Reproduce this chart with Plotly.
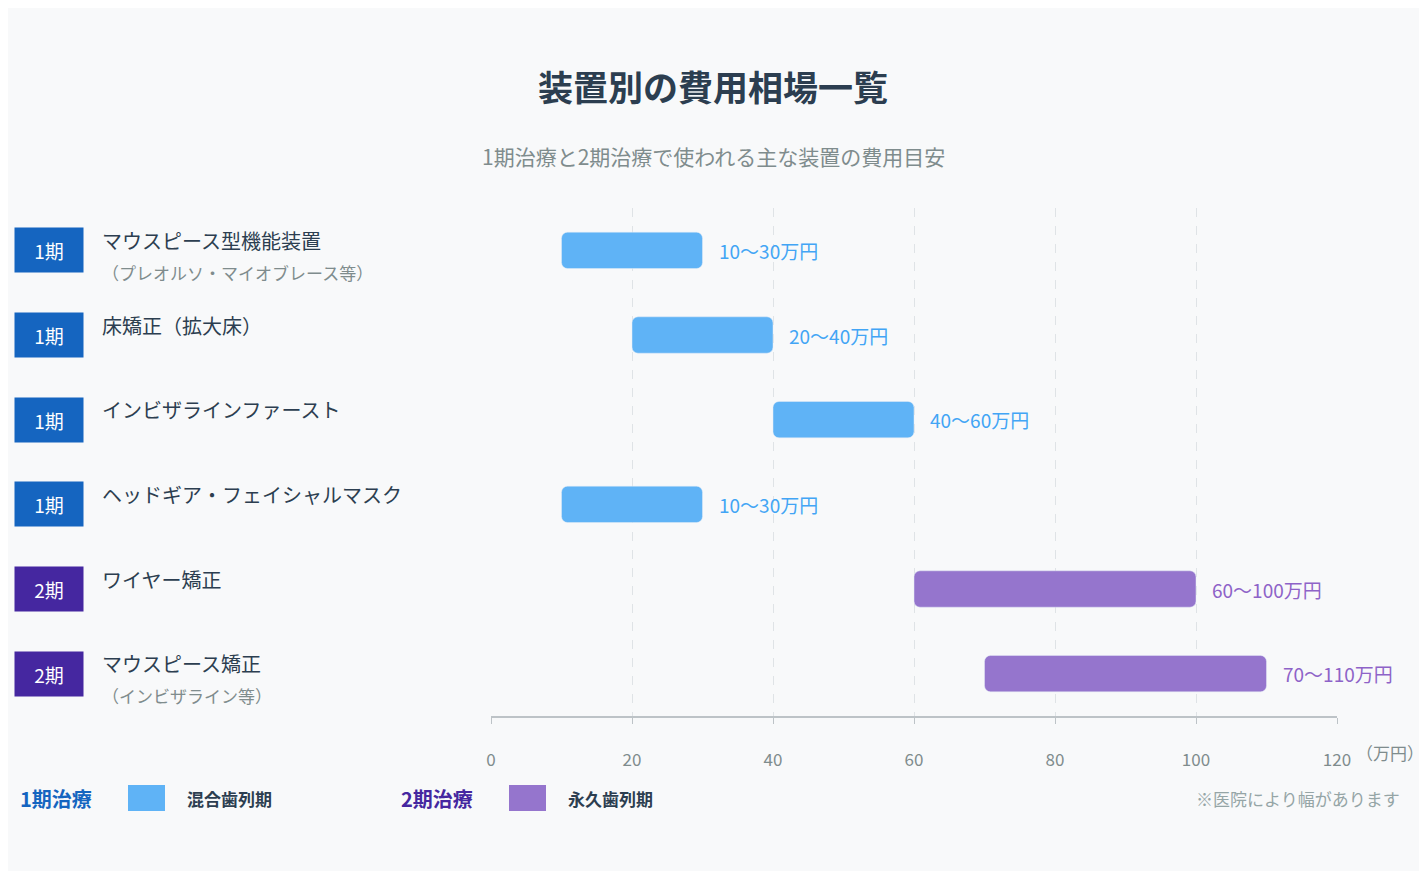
import plotly.graph_objects as go

# データ
names = ["マウスピース型機能装置", "床矯正（拡大床）", "インビザラインファースト",
         "ヘッドギア・フェイシャルマスク", "ワイヤー矯正", "マウスピース矯正"]
subs = ["（プレオルソ・マイオブレース等）", "", "", "", "", "（インビザライン等）"]
phases = ["1期", "1期", "1期", "1期", "2期", "2期"]
low = [10, 20, 40, 10, 60, 70]
high = [30, 40, 60, 30, 100, 110]

FONT = "Noto Sans CJK JP"
bar_col = {"1期": "#5fb3f6", "2期": "#9575cd"}
txt_col = {"1期": "#42a5f5", "2期": "#8e63c8"}
badge_col = {"1期": "#1565c0", "2期": "#4527a0"}

rows = list(range(len(names)))

# ページ余白(8px)を差し引いた寸法
OFF = 8
W, H = 1427 - 2 * OFF, 879 - 2 * OFF
L, T, PW, PH = 491 - OFF, 208 - OFF, 846, 508


def px(x):
    return (x - OFF - L) / PW


def py(y):
    return 1 - (y - OFF - T) / PH


fig = go.Figure()
fig.add_trace(go.Bar(
    y=rows, x=[h - l for l, h in zip(low, high)], base=low, orientation="h",
    width=0.43, marker=dict(color=[bar_col[p] for p in phases], cornerradius=6),
    hoverinfo="skip", showlegend=False))

ann = []
for i in rows:
    p = phases[i]
    ann.append(dict(x=high[i], y=i, xref="x", yref="y", xanchor="left", xshift=14,
                    text=f"{low[i]}〜{high[i]}万円", showarrow=False,
                    font=dict(size=19, color=txt_col[p], family=FONT)))
    ann.append(dict(x=px(49), y=i, xref="paper", yref="y", xanchor="center",
                    text=p, showarrow=False, bgcolor=badge_col[p], width=66, height=42,
                    font=dict(size=19, color="white", family=FONT)))
    ann.append(dict(x=px(100), y=i, xref="paper", yref="y", xanchor="left",
                    yshift=10, text=names[i], showarrow=False,
                    font=dict(size=20, color="#2c3e50", family=FONT)))
    if subs[i]:
        ann.append(dict(x=px(100), y=i, xref="paper", yref="y", xanchor="left",
                        yshift=-22, text=subs[i], showarrow=False,
                        font=dict(size=17, color="#7f8c8d", family=FONT)))

misc = [
    ("<b>装置別の費用相場一覧</b>", 713, 85, 35, "#2c3e50", "center"),
    ("1期治療と2期治療で使われる主な装置の費用目安", 713, 156, 21, "#7f8c8d", "center"),
    ("（万円）", 1354, 752, 17, "#7f8c8d", "left"),
    ("<b>1期治療</b>", 18, 798, 20, "#1565c0", "left"),
    ("<b>混合歯列期</b>", 185, 798, 17, "#2c3e50", "left"),
    ("<b>2期治療</b>", 399, 798, 20, "#4527a0", "left"),
    ("<b>永久歯列期</b>", 566, 798, 17, "#2c3e50", "left"),
    ("※医院により幅があります", 1402, 798, 17, "#95a5a6", "right"),
]
for t, x, y, s, c, a in misc:
    ann.append(dict(x=px(x), y=py(y), xref="paper", yref="paper",
                    xanchor=a, yanchor="middle", text=t, showarrow=False,
                    font=dict(size=s, color=c, family=FONT)))

shapes = []
for x0, c in [(128, "#5fb3f6"), (509, "#9575cd")]:
    shapes.append(dict(type="rect", xref="paper", yref="paper",
                       x0=px(x0), x1=px(x0 + 37), y0=py(811), y1=py(785),
                       fillcolor=c, line=dict(width=0)))

fig.update_layout(
    width=W, height=H, margin=dict(l=L, r=W - L - PW, t=T, b=H - T - PH),
    paper_bgcolor="#f8f9fa", plot_bgcolor="#f8f9fa",
    font=dict(family=FONT), annotations=ann, shapes=shapes,
    xaxis=dict(range=[0, 120], dtick=20, showgrid=True, gridcolor="#dfe3e6",
               griddash="dash", layer="above traces", zeroline=False,
               showline=True, linecolor="#bdc3c7", linewidth=2,
               ticks="outside", ticklen=6, tickcolor="#bdc3c7",
               ticklabelstandoff=22, tickfont=dict(size=17, color="#7f8c8d")),
    yaxis=dict(range=[5.5, -0.5], showticklabels=False, showgrid=False,
               zeroline=False),
)
fig.write_html("out.html")
